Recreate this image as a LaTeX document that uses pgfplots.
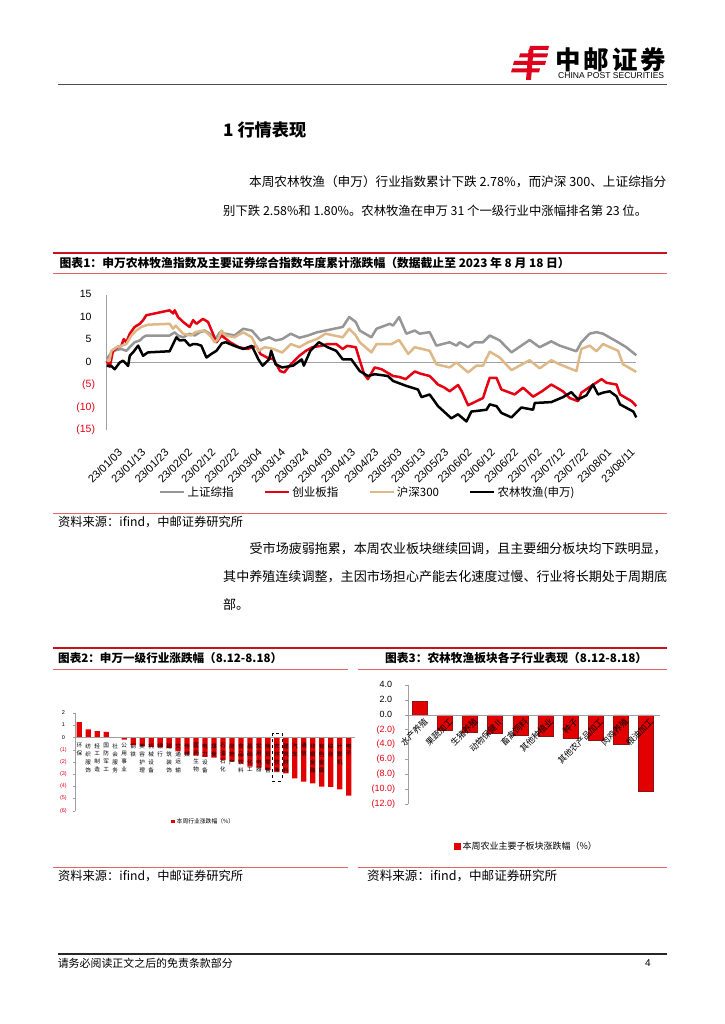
\documentclass[border=0pt]{standalone}
\usepackage{fontspec}
\setmainfont{Liberation Sans}
\newfontfamily\cjk{Noto Sans CJK SC}
\usepackage{graphicx}
\usepackage{pgfplots}
\pgfplotsset{compat=1.18}
\definecolor{cGray}{RGB}{150,150,150}
\definecolor{cRed}{RGB}{230,0,18}
\definecolor{cTan}{RGB}{222,184,135}
\definecolor{secRed}{RGB}{200,16,30}
\definecolor{thinRed}{RGB}{228,100,100}
\definecolor{barRed}{RGB}{226,0,0}
\definecolor{barEdge}{RGB}{140,20,20}
\definecolor{logoRed}{RGB}{222,0,28}
\definecolor{axGray}{RGB}{160,160,160}
\newcommand{\fitw}[2]{\resizebox{#1}{!}{#2}}
\newcommand{\vs}[1]{\shortstack[c]{#1}}

\pgfplotstableread{
d v
0 0.75
2.0 2.2
4.2 2.8
6.3 3.0
8.4 2.6
9.9 3.4
12.0 4.5
14.2 4.9
15.6 5.6
17.0 6.0
27.0 6.0
29.2 6.7
30.6 6.0
32.8 5.6
35.6 6.4
37.8 6.0
39.9 6.7
42.1 7.1
44.2 6.4
46.4 4.9
48.5 6.7
51.1 6.4
54.8 6.0
58.6 7.5
62.3 7.1
66.0 4.9
69.7 5.6
72.5 4.9
75.3 5.2
79.0 6.4
82.7 5.5
86.4 6.0
90.2 6.7
93.9 7.1
97.6 7.5
101.3 7.9
104.1 10.1
106.9 9.0
108.6 7.1
113.6 5.6
115.8 7.5
121.5 8.6
122.9 8.2
125.5 10.1
128.6 6.4
132.2 7.1
134.3 6.4
138.6 6.75
141.5 3.75
147.2 4.5
150.1 3.75
151.5 4.5
155.1 3.4
157.9 4.5
161.5 4.5
164.4 6.0
168.7 4.9
173.7 2.25
181.5 5.0
185.8 3.4
190.8 4.7
194.4 3.75
201.6 2.5
203.7 4.5
207.3 6.4
210.2 6.75
213.0 6.4
219.5 4.5
223.0 3.4
227.3 1.6
}\shgray

\pgfplotstableread{
d v
0 0.4
1.2 0.4
2.0 2.6
4.2 3.4
6.3 3.7
8.4 4.1
10.6 6.0
12.7 7.1
14.9 7.9
17.7 8.4
27.0 8.6
28.5 7.5
29.6 8.2
32.8 6.4
36.3 6.0
37.8 6.7
41.3 7.1
42.8 6.7
44.9 5.6
46.4 4.5
47.8 5.2
49.3 7.1
51.1 6.0
54.8 5.6
58.6 6.7
62.3 5.6
65.1 2.6
67.9 3.4
71.6 3.0
75.3 2.2
79.0 4.1
82.7 3.4
86.4 4.5
90.2 5.2
93.9 6.4
97.6 6.0
101.3 5.6
104.1 7.5
106.9 6.0
108.6 4.5
113.6 2.25
115.8 4.1
122.2 4.1
125.5 5.0
129.4 1.9
132.2 3.4
138.6 2.6
141.5 -0.4
147.2 -1.1
150.1 0.0
155.1 -2.2
158.7 -0.7
161.5 -0.7
164.4 2.4
168.7 1.1
173.7 -1.7
181.5 0.5
185.8 -1.3
190.8 0.5
194.4 -0.4
201.6 -1.9
203.7 3.0
207.3 3.75
210.2 2.5
213.0 4.1
219.5 2.6
221.6 -0.4
227.3 -2.1
}\hstan

\pgfplotstableread{
d v
0 0.4
1.3 -1.0
2.7 2.6
4.9 3.5
6.3 3.7
7.3 5.2
8.4 4.5
9.9 6.4
12.0 7.9
14.2 8.6
15.6 9.4
17.0 10.5
27.0 11.6
28.5 10.9
29.2 11.6
30.6 10.1
32.8 9.0
35.6 7.9
37.1 9.4
38.5 8.6
41.3 9.7
43.5 9.0
45.6 6.4
47.1 4.5
49.3 6.0
53.0 4.5
56.7 3.4
60.4 3.0
64.1 3.7
66.0 1.9
68.8 1.1
71.6 0.7
74.4 -1.9
76.2 -2.2
79.0 -0.4
82.7 1.5
85.5 2.6
88.3 3.4
92.0 3.7
94.8 4.1
98.5 4.1
101.3 3.0
103.2 3.7
106.9 3.4
108.6 0.5
110.5 -2.6
112.1 -3.7
115.0 -1.1
118.0 -1.5
122.9 -3.0
125.5 -3.2
128.3 -3.7
132.2 -2.0
134.8 -2.5
138.6 -3.0
142.2 -4.9
145.0 -5.6
147.2 -6.4
150.8 -5.0
152.4 -6.4
155.1 -9.5
157.1 -9.0
161.5 -7.9
163.0 -5.5
164.4 -3.4
167.3 -3.4
169.4 -6.0
175.1 -7.1
178.7 -5.6
183.0 -7.6
186.8 -6.4
190.8 -4.9
195.8 -6.4
198.7 -7.9
202.3 -8.6
203.7 -6.7
208.0 -5.2
212.4 -3.7
214.5 -4.5
218.8 -4.9
220.3 -7.1
225.3 -8.6
227.3 -9.7
}\cyb

\pgfplotstableread{
d v
0 -0.75
2.0 -0.75
3.4 -1.5
5.6 0.0
7.0 0.4
9.2 -0.75
9.9 1.5
11.3 2.25
13.5 3.75
15.6 1.5
17.7 2.25
27.0 2.5
29.9 5.6
31.3 4.9
33.5 5.0
35.6 3.75
37.1 4.1
38.5 4.1
40.6 3.75
42.8 1.1
44.9 1.9
47.1 2.6
49.5 4.3
51.1 4.5
54.8 3.7
58.6 3.0
62.3 3.7
65.1 0.7
66.9 -0.7
69.7 0.7
70.6 2.6
72.5 -0.4
75.3 -1.1
80.0 -0.7
83.7 0.7
84.6 -0.7
87.4 2.6
91.1 4.5
94.8 3.4
98.5 2.6
101.3 0.7
105.0 0.7
108.6 -1.9
112.1 -3.0
115.0 -2.6
120.7 -3.0
122.9 -4.1
128.6 -5.2
133.6 -6.0
135.1 -7.7
138.6 -7.1
142.2 -9.7
147.9 -12.4
150.8 -11.5
154.4 -13.1
156.5 -10.9
163.0 -10.5
164.4 -9.3
167.3 -9.7
169.4 -11.2
173.7 -12.2
178.0 -10.0
183.0 -10.5
183.7 -9.0
190.8 -8.8
195.8 -7.7
199.4 -6.6
202.3 -8.2
205.9 -7.3
208.7 -4.9
210.9 -7.1
213.0 -6.7
215.9 -6.4
218.8 -7.5
220.3 -9.3
226.0 -10.9
227.3 -12.2
}\nlmy

\pgfplotstableread{
i v
1 1.28
2 0.69
3 0.54
4 0.48
5 0.05
6 -0.17
7 -0.62
8 -0.70
9 -0.76
10 -0.79
11 -0.86
12 -1.11
13 -1.39
14 -1.47
15 -1.58
16 -1.64
17 -1.84
18 -1.97
19 -2.14
20 -2.38
21 -2.47
22 -2.66
23 -2.78
24 -2.93
25 -3.34
26 -3.62
27 -3.75
28 -4.03
29 -4.05
30 -4.25
31 -4.77
}\swind

\pgfplotstableread{
i v
1 1.78
2 -2.09
3 -2.31
4 -2.44
5 -2.80
6 -2.86
7 -3.20
8 -3.42
9 -3.96
10 -10.20
}\subind

\begin{document}
\begin{tikzpicture}[x=1pt,y=1pt]
\fill[white] (0,0) rectangle (724,-1024);

% ---------- header ----------
\fill[logoRed] (530,-46) -- (549,-46) -- (548,-50) -- (529,-50) -- cycle;
\fill[logoRed] (520,-53.5) -- (548,-53.5) -- (547,-57.5) -- (519,-57.5) -- cycle;
\fill[logoRed] (514,-61) -- (546,-61) -- (545,-65) -- (513,-65) -- cycle;
\fill[logoRed] (512,-68.5) -- (540,-68.5) -- (539,-72.5) -- (511,-72.5) -- cycle;
\fill[logoRed] (528.5,-50) -- (533.5,-50) -- (531,-80) -- (526,-80) -- cycle;
\node[anchor=west,inner sep=0] at (555,-60) {\fitw{111pt}{\cjk\bfseries\fontsize{25}{25}\selectfont 中\hspace{3pt}邮\hspace{3pt}证\hspace{3pt}券}};
\node[anchor=west,inner sep=0] at (558,-75.5) {\fitw{106pt}{\fontsize{8}{8}\selectfont CHINA POST SECURITIES}};
\draw[line width=1.3pt, black!70] (58,-84.3) -- (667,-84.3);

% ---------- section heading and text ----------
\node[anchor=west,inner sep=0] at (223,-130) {\fitw{83pt}{\cjk\bfseries\fontsize{16}{16}\selectfont 1 行情表现}};
\node[anchor=west,inner sep=0] at (249,-182) {\fitw{417pt}{\cjk\fontsize{12.5}{14}\selectfont 本周农林牧渔（申万）行业指数累计下跌 2.78\%，而沪深 300、上证综指分}};
\node[anchor=west,inner sep=0] at (223,-211) {\fitw{424pt}{\cjk\fontsize{12.5}{14}\selectfont 别下跌 2.58\%和 1.80\%。农林牧渔在申万 31 个一级行业中涨幅排名第 23 位。}};

% ---------- chart 1 frame ----------
\draw[secRed, line width=1.8pt] (53,-253) -- (667,-253);
\node[anchor=west,inner sep=0] at (59.5,-262.7) {\fitw{510pt}{\cjk\bfseries\fontsize{11}{12}\selectfont 图表1：申万农林牧渔指数及主要证券综合指数年度累计涨跌幅（数据截止至 2023 年 8 月 18 日）}};
\draw[thinRed, line width=0.8pt] (53,-273) -- (667,-273);
\draw[thinRed, line width=0.8pt] (53,-513) -- (667,-513);
\node[anchor=west,inner sep=0] at (58,-521.5) {\fitw{185pt}{\cjk\fontsize{10}{11}\selectfont 资料来源：ifind，中邮证券研究所}};

\begin{axis}[
  at={(106.7pt,-430pt)}, anchor=south west,
  scale only axis, width=529.6pt, height=135pt,
  xmin=0, xmax=227.3, ymin=-15, ymax=15,
  axis x line=bottom, axis y line=left,
  x axis line style={draw=none}, y axis line style={draw=axGray, line width=1.3pt, -},
  xtick={0,10,...,220},
  xticklabels={23/01/03,23/01/13,23/01/23,23/02/02,23/02/12,23/02/22,23/03/04,23/03/14,23/03/24,23/04/03,23/04/13,23/04/23,23/05/03,23/05/13,23/05/23,23/06/02,23/06/12,23/06/22,23/07/02,23/07/12,23/07/22,23/08/01,23/08/11},
  xticklabel style={rotate=45, anchor=north east, inner sep=0pt, xshift=-5pt, yshift=-20pt, font=\fontsize{11}{12}\selectfont},
  ytick={-15,-10,...,15},
  yticklabels={\mbox{\textcolor{cRed}{(15)}},\mbox{\textcolor{cRed}{(10)}},\mbox{\textcolor{cRed}{(5)}},\mbox{0\phantom{)}},\mbox{5\phantom{)}},\mbox{10\phantom{)}},\mbox{15\phantom{)}}},
  yticklabel style={font=\fontsize{10.5}{12}\selectfont, anchor=east, inner sep=0pt, xshift=-11.5pt},
  major tick length=0pt,
  legend columns=4,
  legend style={at={(0.493,-0.46)}, anchor=center, draw=none, fill=none,
    font=\cjk\fontsize{11.5}{13}\selectfont, inner sep=0pt,
    /tikz/every even column/.append style={column sep=28pt}},
  legend image code/.code={\draw[#1, line width=2.6pt] (0pt,0pt) -- (24pt,0pt);},
  clip=false,
]
\addplot[axGray, line width=0.9pt, forget plot] coordinates {(0,0) (227.3,0)};
\addplot[cGray, line width=2.5pt, line join=round] table[x=d,y=v] {\shgray};
\addlegendentry{上证综指}
\addplot[cRed, line width=2.5pt, line join=round] table[x=d,y=v] {\cyb};
\addlegendentry{创业板指}
\addplot[cTan, line width=2.5pt, line join=round] table[x=d,y=v] {\hstan};
\addlegendentry{沪深300}
\addplot[black, line width=2.5pt, line join=round] table[x=d,y=v] {\nlmy};
\addlegendentry{农林牧渔(申万)}
\end{axis}

% ---------- second paragraph ----------
\node[anchor=west,inner sep=0] at (249.5,-549) {\fitw{417pt}{\cjk\fontsize{12.5}{14}\selectfont 受市场疲弱拖累，本周农业板块继续回调，且主要细分板块均下跌明显，}};
\node[anchor=west,inner sep=0] at (223,-577) {\fitw{444pt}{\cjk\fontsize{12.5}{14}\selectfont 其中养殖连续调整，主因市场担心产能去化速度过慢、行业将长期处于周期底}};
\node[anchor=west,inner sep=0] at (223,-605) {\cjk\fontsize{13}{14}\selectfont 部。};

% ---------- charts 2 and 3 frame ----------
\draw[secRed, line width=1.8pt] (53,-648) -- (667,-648);
\node[anchor=west,inner sep=0] at (58,-658.3) {\fitw{224pt}{\cjk\bfseries\fontsize{11}{12}\selectfont 图表2：申万一级行业涨跌幅（8.12-8.18）}};
\node[anchor=west,inner sep=0] at (385,-658.3) {\fitw{262pt}{\cjk\bfseries\fontsize{11}{12}\selectfont 图表3：农林牧渔板块各子行业表现（8.12-8.18）}};
\draw[thinRed, line width=0.8pt] (53,-669) -- (348,-669);
\draw[thinRed, line width=0.8pt] (358,-669) -- (667,-669);
\draw[thinRed, line width=0.8pt] (53,-867) -- (348,-867);
\draw[thinRed, line width=0.8pt] (358,-867) -- (667,-867);
\node[anchor=west,inner sep=0] at (58,-876) {\fitw{185pt}{\cjk\fontsize{10}{11}\selectfont 资料来源：ifind，中邮证券研究所}};
\node[anchor=west,inner sep=0] at (367,-876) {\fitw{190pt}{\cjk\fontsize{10}{11}\selectfont 资料来源：ifind，中邮证券研究所}};

% ---------- chart 2 ----------
\begin{axis}[
  at={(75pt,-810.7pt)}, anchor=south west,
  scale only axis, width=280pt, height=97.4pt,
  xmin=0.52, xmax=31.7, ymin=-6, ymax=2,
  axis on top,
  axis x line=middle, axis y line=left,
  axis line style={-, draw=axGray, line width=0.5pt},
  xtick={1,...,31},
  xticklabels={\vs{环\\保},\vs{纺\\织\\服\\饰},\vs{轻\\工\\制\\造},\vs{国\\防\\军\\工},\vs{社\\会\\服\\务},\vs{公\\用\\事\\业},\vs{钢\\铁},\vs{美\\容\\护\\理},\vs{机\\械\\设\\备},\vs{银\\行},\vs{建\\筑\\装\\饰},\vs{交\\通\\运\\输},\vs{传\\媒},\vs{医\\药\\生\\物},\vs{电\\力\\设\\备},\vs{煤\\炭},\vs{石\\油\\石\\化},\vs{房\\地\\产},\vs{食\\品\\饮\\料},\vs{基\\础\\化\\工},\vs{家\\用\\电\\器},\vs{商\\贸\\零\\售},\vs{农\\林\\牧\\渔},\vs{建\\筑\\材\\料},\vs{汽\\车},\vs{通\\信},\vs{非\\银\\金\\融},\vs{有\\色\\金\\属},\vs{综\\合},\vs{计\\算\\机},\vs{电\\子}},
  xticklabel style={font=\cjk\fontsize{5.6}{6.2}\selectfont, anchor=north, inner sep=0pt, yshift=-3.5pt},
  x tick style={draw=none},
  ytick={-6,-5,...,2},
  yticklabels={\mbox{\textcolor{cRed}{(6)}},\mbox{\textcolor{cRed}{(5)}},\mbox{\textcolor{cRed}{(4)}},\mbox{\textcolor{cRed}{(3)}},\mbox{\textcolor{cRed}{(2)}},\mbox{\textcolor{cRed}{(1)}},\mbox{0\phantom{)}},\mbox{1\phantom{)}},\mbox{2\phantom{)}}},
  yticklabel style={font=\fontsize{5.5}{6}\selectfont, anchor=east, inner sep=0pt, xshift=-6pt},
  y tick style={draw=axGray, line width=0.4pt}, tick align=outside, major tick length=2pt,
  legend style={at={(0.46,-0.113)}, anchor=center, draw=none, fill=none,
    font=\cjk\fontsize{5.8}{6.5}\selectfont, inner sep=0pt},
  legend image code/.code={\fill[barRed] (0pt,-1.7pt) rectangle (3.4pt,1.7pt);},
  clip=false,
]
\addplot[ybar, bar width=5.3pt, fill=barRed, draw=none] table[x=i,y=v] {\swind};
\addlegendentry{本周行业涨跌幅（\%）}
\draw[black, dashed, line width=0.6pt] (axis cs:22.52,0.39) rectangle (axis cs:23.55,-3.56);
\end{axis}

% ---------- chart 3 ----------
\begin{axis}[
  at={(408.3pt,-804.3pt)}, anchor=south west,
  scale only axis, width=251.7pt, height=119.3pt,
  xmin=0.533, xmax=10.57, ymin=-12, ymax=4,
  axis on top,
  axis x line=middle, axis y line=left,
  axis line style={-, draw=axGray, line width=0.6pt},
  xtick={1,...,10},
  xticklabels={水产养殖,果蔬加工,生猪养殖,动物保健Ⅱ,畜禽饲料,其他种植业,种子,其他农产品加工,肉鸡养殖,粮油加工},
  xticklabel style={font=\cjk\fontsize{8.5}{9}\selectfont, rotate=45, anchor=north east, inner sep=0pt, xshift=2.5pt, yshift=-2pt},
  x tick style={draw=none},
  ytick={-12,-10,...,4},
  yticklabels={\mbox{\textcolor{cRed}{(12.0)}},\mbox{\textcolor{cRed}{(10.0)}},\mbox{\textcolor{cRed}{(8.0)}},\mbox{\textcolor{cRed}{(6.0)}},\mbox{\textcolor{cRed}{(4.0)}},\mbox{\textcolor{cRed}{(2.0)}},\mbox{0.0\phantom{)}},\mbox{2.0\phantom{)}},\mbox{4.0\phantom{)}}},
  yticklabel style={font=\fontsize{9}{10}\selectfont, anchor=east, inner sep=0pt, xshift=-10pt},
  y tick style={draw=axGray, line width=0.5pt}, tick align=outside, major tick length=3pt,
  legend style={at={(0.47,-0.355)}, anchor=center, draw=none, fill=none,
    font=\cjk\fontsize{9}{10}\selectfont, inner sep=0pt},
  legend image code/.code={\fill[barRed] (0pt,-3pt) rectangle (5.5pt,3pt);},
  clip=false,
]
\addplot[ybar, bar width=15pt, fill=barRed, draw=barEdge, line width=0.6pt] table[x=i,y=v] {\subind};
\addlegendentry{本周农业主要子板块涨跌幅（\%）}
\end{axis}

% ---------- footer ----------
\draw[line width=1.6pt, black!85] (58,-954) -- (667,-954);
\node[anchor=west,inner sep=0] at (57.6,-963) {\fitw{175pt}{\cjk\fontsize{10}{11}\selectfont 请务必阅读正文之后的免责条款部分}};
\node[anchor=west,inner sep=0] at (645,-963) {\fontsize{10}{11}\selectfont 4};
\end{tikzpicture}
\end{document}
